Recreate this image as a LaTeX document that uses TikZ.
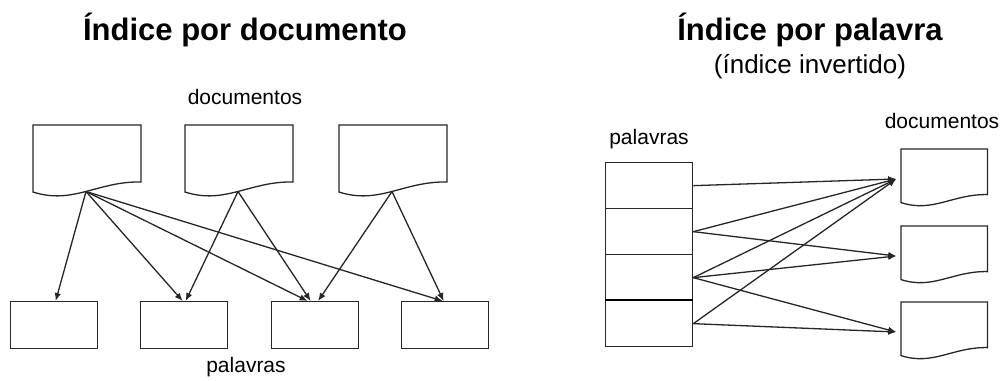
\documentclass[tikz,border=0pt]{standalone}
\usepackage{fontspec}
\setmainfont{Liberation Sans}
\usetikzlibrary{arrows.meta}
\begin{document}
\begin{tikzpicture}[x=1pt,y=-1pt,
  line/.style={line width=1.3pt, draw=black!85},
  arr/.style={line, -{Latex[length=8pt,width=6.5pt]}},
  wbox/.style={draw=black!85, line width=1.3pt, minimum width=87pt, minimum height=47pt, inner sep=0pt, anchor=north west},
  sbox/.style={wbox, minimum height=46pt},
  title/.style={font=\fontsize{31}{36}\selectfont\bfseries, anchor=base, inner sep=0pt},
  sub/.style={font=\fontsize{26}{30}\selectfont, anchor=base, inner sep=0pt},
  lbl/.style={font=\fontsize{21}{25}\selectfont, anchor=base, inner sep=0pt},
  doc/.pic={
    \draw[line] (0,67) -- (0,0) -- (108,0) -- (108,57) .. controls (65,56) and (40,80) .. (0,67) -- cycle;
    \coordinate (-b) at (53,66.5);
    \coordinate (-l) at (-6,37.5);
  }
]
\useasboundingbox (0,0) rectangle (1006,380);

% ---------- left: index by document ----------
\node[title] (t1) at (245,40) {Índice por documento};
\node[lbl] (ldocs) at (245,104) {documentos};
\node[lbl] (lwords) at (246,372) {palavras};

\pic (d1) at (33,125) {doc};
\pic (d2) at (185,125) {doc};
\pic (d3) at (339,125) {doc};

\node[wbox] (b1) at (10,301) {};
\node[wbox] (b2) at (140,301) {};
\node[wbox] (b3) at (271,301) {};
\node[wbox] (b4) at (401,301) {};

\draw[arr] (d1-b) -- ([xshift=1.5pt]b1.north);
\draw[arr] (d1-b) -- ([xshift=-1.5pt]b2.north);
\draw[arr] (d1-b) -- ([xshift=-7.5pt]b3.north);
\draw[arr] (d1-b) -- ([xshift=-2.5pt]b4.north);
\draw[arr] (d2-b) -- ([xshift=1.5pt]b2.north);
\draw[arr] (d2-b) -- ([xshift=-4.5pt]b3.north);
\draw[arr] (d3-b) -- ([xshift=3pt]b3.north);
\draw[arr] (d3-b) -- ([xshift=-1.5pt]b4.north);

% ---------- right: index by word ----------
\node[title] (t2) at (810,40) {Índice por palavra};
\node[sub] (t2s) at (810,73) {(índice invertido)};
\node[lbl] (rwords) at (649,144) {palavras};
\node[lbl] (rdocs) at (942,128) {documentos};

\node[sbox] (w1) at (605,162) {};
\node[sbox] (w2) at (605,208) {};
\node[sbox] (w3) at (605,254) {};
\node[sbox] (w4) at (605,300) {};
\draw[line width=2.2pt] (w4.north west) -- (w4.north east);

\pic[scale=0.8] (dA) at (901,149) {doc};
\pic[scale=0.8] (dB) at (901,226) {doc};
\pic[scale=0.8] (dC) at (901,302) {doc};

\draw[arr] (w1.east) -- (dA-l);
\draw[arr] (w2.east) -- (dA-l);
\draw[arr] (w2.east) -- (dB-l);
\draw[arr] (w3.east) -- (dA-l);
\draw[arr] (w3.east) -- (dB-l);
\draw[arr] (w3.east) -- (dC-l);
\draw[arr] (w4.east) -- (dA-l);
\draw[arr] (w4.east) -- (dC-l);
\end{tikzpicture}
\end{document}
